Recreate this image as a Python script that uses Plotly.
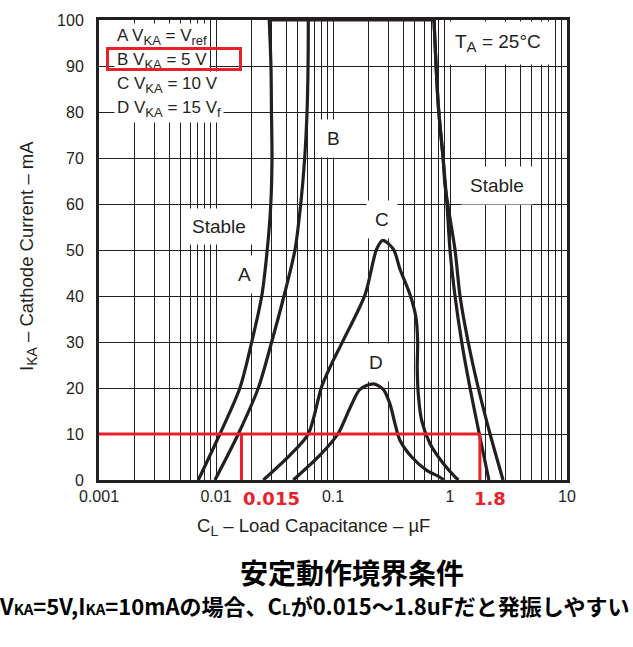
import plotly.graph_objects as go
import math

# ---------------- data ----------------
# Curve A (V_KA = Vref) : left boundary, right boundary
a_left_cap = [0.00706, 0.0108, 0.016, 0.0202, 0.0246, 0.0274, 0.0294, 0.0301, 0.0298, 0.0295, 0.0285]
a_left_cur = [0, 10, 20, 30, 40, 50, 60, 70, 80, 90, 100]
a_right_cap = [0.73, 0.794, 0.877, 0.907, 1.104, 1.218, 1.43, 1.745, 2.2, 2.84]
a_right_cur = [100, 81.5, 69.4, 64, 50, 40, 30, 20, 10, 0]

# Curve B (V_KA = 5 V)
b_left_cap = [0.0098, 0.0155, 0.023, 0.0299, 0.0381, 0.0473, 0.053, 0.0573, 0.06, 0.0612, 0.0615]
b_left_cur = [0, 10, 20, 30, 40, 50, 60, 70, 80, 90, 100]
b_right_cap = [0.73, 0.794, 0.877, 0.942, 1.0, 1.104, 1.259, 1.483, 1.78, 2.15]
b_right_cur = [100, 81.5, 69.4, 60, 50, 40, 30, 20, 10, 0]

# Upper edge shared by A and B (unstable region bounded by 100 mA)
top_cap = [0.0285, 0.73]
top_cur = [100, 100]

# Curve C (V_KA = 10 V) closed region
c_cap = [0.0254, 0.0429, 0.0615, 0.08, 0.0975, 0.122, 0.188, 0.236, 0.266,
         0.328, 0.374, 0.455, 0.512, 0.529, 0.525, 0.536, 0.573, 0.675, 0.877, 1.104, 1.18]
c_cur = [0, 5.4, 10, 20.3, 25.3, 30.3, 40.3, 50.2, 52.1,
         50.2, 45.8, 40.3, 35.3, 30.3, 24.3, 18.6, 12.9, 7.9, 3.6, 0.7, 0]

# Curve D (V_KA = 15 V) closed region
d_cap = [0.0458, 0.0774, 0.11, 0.14, 0.17, 0.221, 0.269, 0.307, 0.339, 0.374, 0.471, 0.632, 0.822, 0.88]
d_cur = [0, 5.4, 10, 15.7, 19.7, 20.9, 19.7, 16.5, 12.2, 8.6, 5, 2.1, 0.6, 0]

# Highlighted condition: I_KA = 10 mA, oscillation between these capacitances
mark_cur = 10
mark_caps = [0.0165, 1.8]
mark_labels = ["0.015", "1.8"]

x_tickvals = [0.001, 0.01, 0.1, 1, 10]
x_ticktext = ["0.001", "0.01", "0.1", "1", "10"]
y_tickvals = [0, 10, 20, 30, 40, 50, 60, 70, 80, 90, 100]

# ---------------- figure ----------------
ink = "#231f20"
red = "#e8202a"
font_lat = "Liberation Sans, Arial, sans-serif"
font_jp = "Noto Sans CJK JP, sans-serif"

fig = go.Figure()

def curve(x, y, shape="spline"):
    fig.add_trace(go.Scatter(x=x, y=y, mode="lines",
                             line=dict(color=ink, width=3.2, shape=shape, smoothing=0.8),
                             hoverinfo="skip", showlegend=False))

curve(a_left_cap, a_left_cur)
curve(a_right_cap, a_right_cur)
curve(b_left_cap, b_left_cur)
curve(b_right_cap, b_right_cur)
curve(top_cap, top_cur, shape="linear")
curve(c_cap, c_cur)
curve(d_cap, d_cur)

# red marker lines
fig.add_trace(go.Scatter(x=[x_tickvals[0], max(mark_caps)], y=[mark_cur, mark_cur], mode="lines",
                         line=dict(color=red, width=3), hoverinfo="skip", showlegend=False))
for c in mark_caps:
    fig.add_trace(go.Scatter(x=[c, c], y=[0, mark_cur], mode="lines",
                             line=dict(color=red, width=3), hoverinfo="skip", showlegend=False))

W, H = 633, 647
L, R, T, B = 99, 66, 14, 167
pw, ph = W - L - R, H - T - B

def px(xp):  # pixel x -> paper
    return (xp - L) / pw

def py(yp):  # pixel y -> paper
    return (H - B - yp) / ph

ann = []

def label(text, xp, yp, pad=7, size=19, bg="white", xanchor="center", family=font_lat, color=ink, **kw):
    ann.append(dict(text=text, x=px(xp), y=py(yp), xref="paper", yref="paper",
                    showarrow=False, xanchor=xanchor, yanchor="middle",
                    font=dict(family=family, size=size, color=color),
                    bgcolor=bg, borderpad=pad, **kw))

def sub(t, size=13):
    return "<sub><span style='font-size:%dpx'>%s</span></sub>" % (size, t)

label("Stable", 219, 223, pad=7)
label("Stable", 497, 182, pad=8)
label("A", 244, 272, pad=8)
label("B", 333, 134, pad=8)
label("C", 382, 216, pad=8)
label("D", 376, 361, pad=8)
label("T" + sub("A", 15) + " = 25°C", 498, 37, pad=9)

legend_rows = ["A V" + sub("KA") + " = V" + sub("ref"), "B V" + sub("KA") + " = 5 V",
               "C V" + sub("KA") + " = 10 V", "D V" + sub("KA") + " = 15 V" + sub("f")]
for i, t in enumerate(legend_rows):
    label(t, 114, 31 + 24.5 * i, pad=2, size=17, xanchor="left")

# red highlight frame around the B row (drawn above the white text boxes)
ann.append(dict(text=" ", x=px(174), y=py(54), xref="paper", yref="paper", showarrow=False,
                xanchor="center", yanchor="middle", width=130, height=18, borderpad=0,
                bordercolor=red, borderwidth=3, bgcolor="rgba(0,0,0,0)"))

# axis titles
label("C" + sub("L", 14) + " – Load Capacitance – µF", 313, 528, pad=0, size=18.5, bg="rgba(0,0,0,0)")
label("I" + sub("KA", 14) + " – Cathode Current – mA", 28, 253, pad=0, size=18.5,
      bg="rgba(0,0,0,0)", textangle=-90)

# red value labels under the axis
for c, t, dx in zip(mark_caps, mark_labels, [0, -8]):
    ann.append(dict(text="<b>" + t + "</b>", x=math.log10(c), y=py(499), xref="x", yref="paper",
                    showarrow=False, xanchor="left", yanchor="middle", xshift=dx,
                    font=dict(family="DejaVu Sans, Verdana, sans-serif", size=18, color=red)))

# Japanese titles
label("<b>安定動作境界条件</b>", 352, 573, pad=0, size=28, bg="rgba(0,0,0,0)", family=font_jp, color="black")
sm = "<span style='font-size:15px'>"
sub_line = ("<b>V" + sm + "KA</span>=5V,I" + sm + "KA</span>=10mAの場合、C" + sm + "L</span>"
            "が0.015～1.8uFだと発振しやすい</b>")
label(sub_line, 314, 607, pad=0, size=22, bg="rgba(0,0,0,0)", family=font_jp, color="black")

fig.update_layout(
    width=W, height=H,
    margin=dict(l=L, r=R, t=T, b=B, pad=0),
    paper_bgcolor="white", plot_bgcolor="white",
    annotations=ann,
    font=dict(family=font_lat, color=ink),
)
fig.update_xaxes(type="log", range=[-3, 1], tickvals=x_tickvals, ticktext=x_ticktext,
                 showgrid=True, gridcolor=ink, gridwidth=1.3,
                 minor=dict(dtick="D1", showgrid=True, gridcolor=ink, gridwidth=1.1),
                 showline=True, linecolor=ink, linewidth=3, mirror=True, zeroline=False,
                 ticks="", tickfont=dict(size=16, color=ink, family=font_lat), ticklabelstandoff=0)
fig.update_yaxes(range=[0, 100], tickvals=y_tickvals,
                 showgrid=True, gridcolor=ink, gridwidth=1.3,
                 showline=True, linecolor=ink, linewidth=3, mirror=True, zeroline=False,
                 ticks="", tickfont=dict(size=16, color=ink, family=font_lat), ticklabelstandoff=9)

fig.write_html("out.html")
